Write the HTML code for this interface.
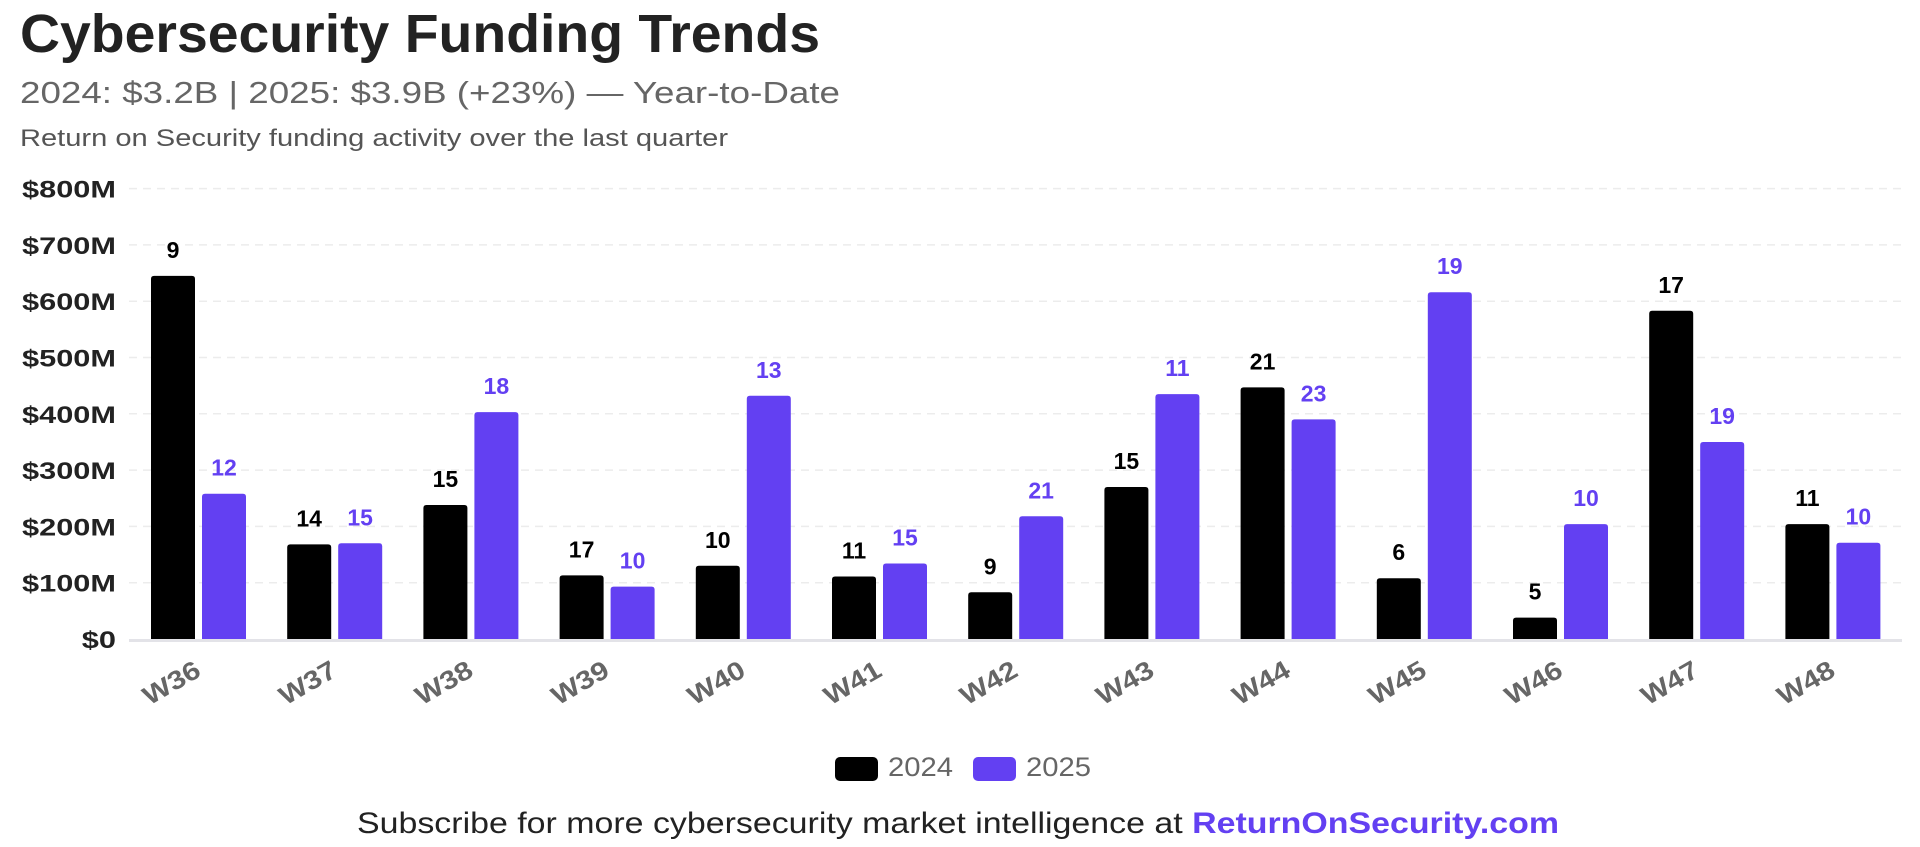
<!DOCTYPE html>
<html><head><meta charset="utf-8"><style>
html,body{margin:0;padding:0;background:#fff;width:1920px;height:847px;overflow:hidden;font-family:"Liberation Sans",sans-serif}
svg{display:block}
</style></head><body>
<svg width="1920" height="847" viewBox="0 0 1920 847" xmlns="http://www.w3.org/2000/svg" font-family="Liberation Sans, sans-serif">
<text x="20" y="52" font-size="54" font-weight="bold" fill="#222" textLength="800" lengthAdjust="spacingAndGlyphs">Cybersecurity Funding Trends</text>
<text x="20" y="103" font-size="31" fill="#666" textLength="820" lengthAdjust="spacingAndGlyphs">2024: $3.2B | 2025: $3.9B (+23%) — Year-to-Date</text>
<text x="20" y="146" font-size="24" fill="#555" textLength="708" lengthAdjust="spacingAndGlyphs">Return on Security funding activity over the last quarter</text>
<g id="grid"></g><g id="bars"></g><g id="xl"></g>
<rect x="835" y="757" width="43" height="24" rx="5" fill="#000"/>
<text x="888" y="776" font-size="27" fill="#666" textLength="65" lengthAdjust="spacingAndGlyphs">2024</text>
<rect x="973" y="757" width="43" height="24" rx="5" fill="#6340f2"/>
<text x="1026" y="776" font-size="27" fill="#666" textLength="65" lengthAdjust="spacingAndGlyphs">2025</text>
<text x="357" y="833" font-size="30" fill="#222" textLength="1202" lengthAdjust="spacingAndGlyphs">Subscribe for more cybersecurity market intelligence at <tspan font-weight="bold" fill="#6340f2">ReturnOnSecurity.com</tspan></text>
</svg>
<script>
const categories=["W36","W37","W38","W39","W40","W41","W42","W43","W44","W45","W46","W47","W48"];
const values2024=[645,168,238,113,130,111,83,270,447,108,38,583,204];
const values2025=[258,170,403,93,432,134,218,435,390,616,204,350,171];
const deals2024=[9,14,15,17,10,11,9,15,21,6,5,17,11];
const deals2025=[12,15,18,10,13,15,21,11,23,19,10,19,10];
const yTicks=[0,100,200,300,400,500,600,700,800];
const yTickLabels=["$0","$100M","$200M","$300M","$400M","$500M","$600M","$700M","$800M"];
const NS="http://www.w3.org/2000/svg";
const y0=639,pxPer=56.3/100,left=129,right=1902,c0=198.5,step=136.2,bw=44,gap=7;
const yS=v=>y0-v*pxPer, xC=i=>c0+i*step;
function mk(tag,attrs,parent){const e=document.createElementNS(NS,tag);for(const k in attrs)e.setAttribute(k,attrs[k]);parent.appendChild(e);return e;}
function widen(t,f){const w=t.getComputedTextLength();t.setAttribute('textLength',w*f);t.setAttribute('lengthAdjust','spacingAndGlyphs');}
const grid=document.getElementById('grid'),bars=document.getElementById('bars'),xl=document.getElementById('xl');
yTicks.forEach((t,i)=>{
  if(t>0){const l=mk('line',{x1:left,x2:right,y1:yS(t),y2:yS(t),stroke:'#ececec','stroke-width':1.5,'stroke-dasharray':'8 6'},grid);
  
  }
  const tx=mk('text',{x:116,y:yS(t)+9,'font-size':24,'font-weight':'bold','text-anchor':'end',fill:'#222'},grid);
  tx.textContent=yTickLabels[i];
  
  
  widen(tx,1.28);
});
const ax=mk('line',{x1:left,x2:right,y1:y0+1.5,y2:y0+1.5,stroke:'#e3e3e8','stroke-width':3},grid);


function bar(x,v,col,d){
  const p=mk('path',{d:`M${x},${y0} V${yS(v)+3} Q${x},${yS(v)} ${x+3},${yS(v)} H${x+bw-3} Q${x+bw},${yS(v)} ${x+bw},${yS(v)+3} V${y0} Z`,fill:col},bars);
  
  
  const t=mk('text',{x:x+bw/2,y:yS(v)-18,'font-size':23,'font-weight':'bold','text-anchor':'middle',fill:col},bars);
  t.textContent=d;
  
  
}
categories.forEach((c,i)=>{
  const cx=xC(i);
  bar(cx-gap/2-bw,values2024[i],'#000',deals2024[i]);
  bar(cx+gap/2,values2025[i],'#6340f2',deals2025[i]);
  const t=mk('text',{x:0,y:0,'font-size':26,'font-weight':'bold','text-anchor':'end',fill:'#666',transform:`translate(${cx+4},${y0+36}) rotate(-30)`},xl);
  t.textContent=c;
  
  
  widen(t,1.15);
});
</script>
</body></html>
